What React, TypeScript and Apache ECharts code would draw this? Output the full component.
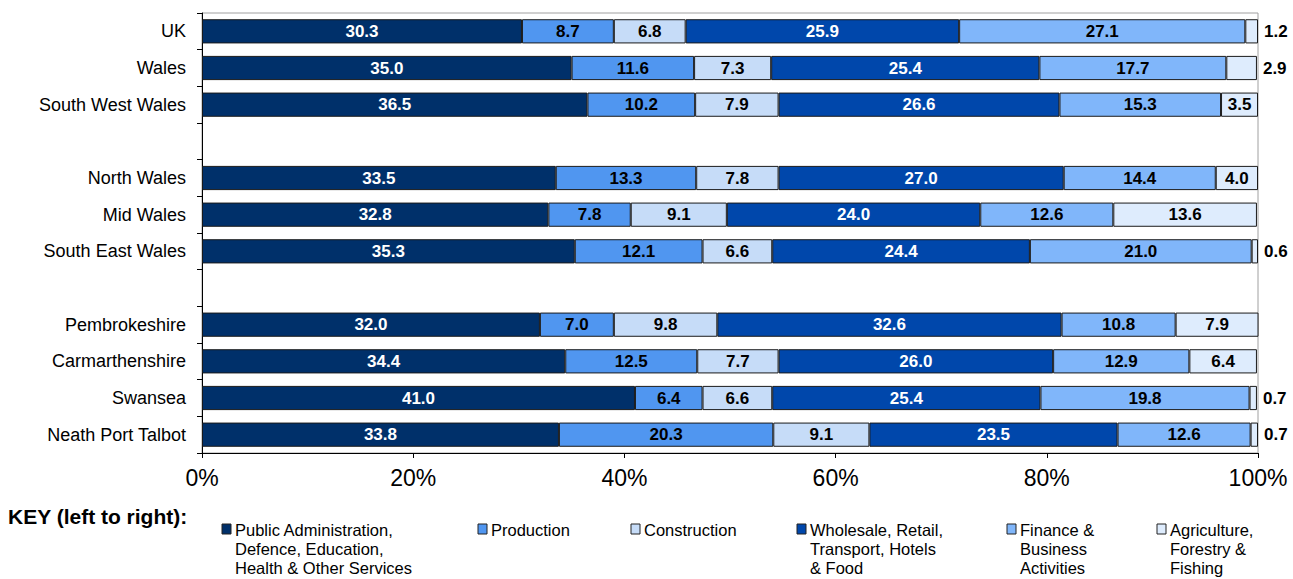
import React, { useEffect, useRef } from "react";
import * as echarts from "echarts";

const categories = [
  "UK", "Wales", "South West Wales", "",
  "North Wales", "Mid Wales", "South East Wales", " ",
  "Pembrokeshire", "Carmarthenshire", "Swansea", "Neath Port Talbot",
];

const seriesNames = [
  "Public Administration, Defence, Education, Health & Other Services",
  "Production",
  "Construction",
  "Wholesale, Retail, Transport, Hotels & Food",
  "Finance & Business Activities",
  "Agriculture, Forestry & Fishing",
];

const legendLines = [
  "Public Administration,\nDefence, Education,\nHealth & Other Services",
  "Production",
  "Construction",
  "Wholesale, Retail,\nTransport, Hotels\n& Food",
  "Finance &\nBusiness\nActivities",
  "Agriculture,\nForestry &\nFishing",
];

const publicAdmin = [30.3, 35.0, 36.5, null, 33.5, 32.8, 35.3, null, 32.0, 34.4, 41.0, 33.8];
const production = [8.7, 11.6, 10.2, null, 13.3, 7.8, 12.1, null, 7.0, 12.5, 6.4, 20.3];
const construction = [6.8, 7.3, 7.9, null, 7.8, 9.1, 6.6, null, 9.8, 7.7, 6.6, 9.1];
const wholesale = [25.9, 25.4, 26.6, null, 27.0, 24.0, 24.4, null, 32.6, 26.0, 25.4, 23.5];
const finance = [27.1, 17.7, 15.3, null, 14.4, 12.6, 21.0, null, 10.8, 12.9, 19.8, 12.6];
const agriculture = [1.2, 2.9, 3.5, null, 4.0, 13.6, 0.6, null, 7.9, 6.4, 0.7, 0.7];

const xTicks = [0, 20, 40, 60, 80, 100];

const colors = ["#00306A", "#5096F0", "#C6DCF8", "#0047AB", "#80B6FA", "#DEECFD"];
const labelColors = ["#ffffff", "#000000", "#000000", "#ffffff", "#000000", "#000000"];

const legendIconX = [222, 478, 631, 797, 1007, 1157];

export default function App() {
  const ref = useRef<HTMLDivElement>(null);
  useEffect(() => {
    if (!ref.current) return;
    const chart = echarts.init(ref.current, undefined, { renderer: "svg" });
    const allData = [publicAdmin, production, construction, wholesale, finance, agriculture];
    const font = "Liberation Sans, Arial, sans-serif";

    const series = allData.map((arr, si) => ({
      name: seriesNames[si],
      type: "bar",
      stack: "total",
      barCategoryGap: "34%",
      itemStyle: { color: colors[si], borderColor: "#1a1a1a", borderWidth: 1 },
      label: {
        show: true,
        position: "inside",
        color: labelColors[si],
        fontWeight: "bold",
        fontSize: 17,
        fontFamily: font,
        formatter: (p: any) => (p.value == null ? "" : Number(p.value).toFixed(1)),
      },
      data: arr.map((v) => {
        if (v == null) return null;
        if (si === 5 && v < 3) {
          return {
            value: v,
            label: { position: "right", distance: 6, color: "#000000" },
          };
        }
        return v;
      }),
    }));

    const graphics: any[] = [
      {
        type: "text",
        left: 8,
        top: 506,
        style: { text: "KEY (left to right):", font: `bold 21px ${font}`, fill: "#000" },
      },
    ];
    legendLines.forEach((t, i) => {
      graphics.push({
        type: "rect",
        shape: { x: legendIconX[i], y: 524, width: 9, height: 10 },
        style: { fill: colors[i], stroke: "#222", lineWidth: 1 },
      });
      graphics.push({
        type: "text",
        x: legendIconX[i] + 13,
        y: 520,
        style: {
          text: t,
          font: `16.5px ${font}`,
          fill: "#000",
          lineHeight: 19,
        },
      });
    });

    chart.setOption({
      animation: false,
      backgroundColor: "#ffffff",
      grid: {
        left: 202,
        right: 35,
        top: 13,
        bottom: 126,
        show: true,
        borderColor: "#a0a0a0",
        borderWidth: 1,
      },
      xAxis: {
        type: "value",
        min: 0,
        max: 100,
        interval: 20,
        axisLine: { show: true, lineStyle: { color: "#000", width: 1 } },
        axisTick: { show: true, length: 5, lineStyle: { color: "#000" } },
        splitLine: { show: false },
        axisLabel: {
          formatter: (v: number) => (xTicks.includes(v) ? `${v}%` : ""),
          fontSize: 23,
          color: "#000",
          fontFamily: font,
          margin: 13,
        },
      },
      yAxis: {
        type: "category",
        inverse: true,
        data: categories,
        axisLine: { show: true, lineStyle: { color: "#000", width: 1 } },
        axisTick: { show: true, length: 5, lineStyle: { color: "#000" } },
        axisLabel: { fontSize: 18, color: "#000", fontFamily: font, margin: 16 },
      },
      series,
      graphic: graphics,
    });
    return () => chart.dispose();
  }, []);
  return (
    <div
      ref={ref}
      style={{ position: "fixed", left: 0, top: 0, width: 1293, height: 579 }}
    />
  );
}
